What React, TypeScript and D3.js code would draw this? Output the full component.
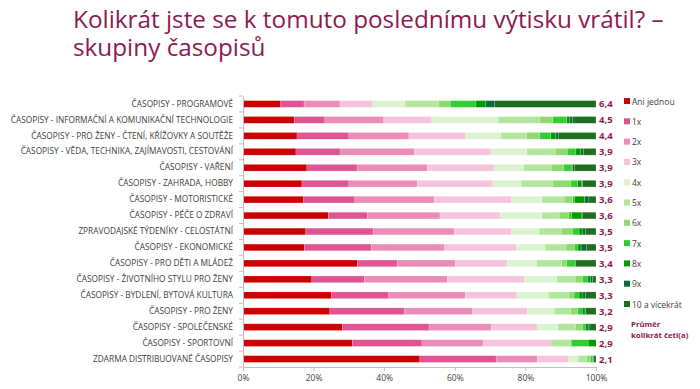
import React, { useEffect, useRef } from 'react';
import * as d3 from 'd3';

const categories = [
  'ČASOPISY - PROGRAMOVÉ',
  'ČASOPISY - INFORMAČNÍ A KOMUNIKAČNÍ TECHNOLOGIE',
  'ČASOPISY - PRO ŽENY - ČTENÍ, KŘÍŽOVKY A SOUTĚŽE',
  'ČASOPISY - VĚDA, TECHNIKA, ZAJÍMAVOSTI, CESTOVÁNÍ',
  'ČASOPISY - VAŘENÍ',
  'ČASOPISY - ZAHRADA, HOBBY',
  'ČASOPISY - MOTORISTICKÉ',
  'ČASOPISY - PÉČE O ZDRAVÍ',
  'ZPRAVODAJSKÉ TÝDENÍKY - CELOSTÁTNÍ',
  'ČASOPISY - EKONOMICKÉ',
  'ČASOPISY - PRO DĚTI A MLÁDEŽ',
  'ČASOPISY - ŽIVOTNÍHO STYLU PRO ŽENY',
  'ČASOPISY - BYDLENÍ, BYTOVÁ KULTURA',
  'ČASOPISY - PRO ŽENY',
  'ČASOPISY - SPOLEČENSKÉ',
  'ČASOPISY - SPORTOVNÍ',
  'ZDARMA DISTRIBUOVANÉ ČASOPISY',
];

const seriesNames = ['Ani jednou', '1x', '2x', '3x', '4x', '5x', '6x', '7x', '8x', '9x', '10 a vícekrát'];

// procenta po řádcích (kategorie), sloupce = seriesNames
const shares = [
  [10.7, 6.6, 10.2, 9.3, 9.0, 9.7, 3.2, 7.3, 2.8, 2.4, 28.8],
  [14.5, 8.7, 16.7, 13.6, 18.8, 11.8, 3.7, 3.9, 0.9, 0.8, 6.6],
  [15.3, 14.7, 17.0, 16.1, 9.9, 7.4, 3.7, 3.1, 1.4, 0.7, 10.7],
  [15.0, 12.5, 21.0, 21.8, 10.1, 8.1, 3.4, 2.4, 1.4, 0.8, 3.5],
  [18.1, 14.2, 19.9, 18.9, 8.4, 7.8, 3.6, 2.3, 0.2, 0.6, 6.0],
  [16.7, 13.3, 19.4, 21.4, 8.0, 9.0, 5.1, 1.9, 1.1, 0.3, 3.8],
  [17.2, 14.5, 22.5, 21.9, 8.6, 6.3, 2.4, 0.5, 2.9, 1.2, 2.0],
  [24.2, 11.1, 20.5, 17.0, 11.9, 4.9, 2.7, 0.8, 2.9, 0.1, 3.9],
  [17.8, 19.1, 22.9, 16.3, 7.8, 6.3, 3.1, 1.9, 0.9, 0.9, 3.0],
  [17.4, 19.0, 20.7, 20.3, 8.2, 5.9, 2.4, 1.0, 0.9, 1.6, 2.6],
  [32.4, 11.3, 16.5, 14.7, 8.3, 7.1, 1.4, 2.4, 0.2, 0.0, 5.7],
  [19.5, 14.9, 23.5, 21.8, 9.2, 5.2, 2.1, 1.4, 0.8, 0.6, 1.0],
  [25.1, 16.2, 21.7, 14.6, 8.9, 5.8, 1.5, 1.4, 1.1, 0.8, 2.9],
  [24.6, 21.2, 19.3, 15.4, 7.7, 4.6, 2.0, 1.3, 0.8, 0.2, 2.9],
  [28.2, 24.5, 17.6, 13.0, 5.9, 5.0, 2.0, 0.8, 0.8, 0.5, 1.7],
  [31.0, 19.7, 17.3, 19.2, 0.0, 5.8, 0.0, 4.8, 2.2, 0.0, 0.0],
  [50.1, 21.6, 11.7, 8.8, 2.8, 2.4, 1.1, 0.6, 0.1, 0.2, 0.6],
];

const averages = ['6,4', '4,5', '4,4', '3,9', '3,9', '3,9', '3,6', '3,6', '3,5', '3,5', '3,4', '3,3', '3,3', '3,2', '2,9', '2,9', '2,1'];

const xTicks = [0, 20, 40, 60, 80, 100];

const COLORS = ['#cc0000', '#df5492', '#ea8cb8', '#f5c4da', '#dcf3d2', '#b2e59d', '#8fd96f', '#33cc33', '#009a00', '#0a6b3b', '#1f6e1f'];
const MAROON = '#8c1a52';
const FONT = '"Open Sans", "Noto Sans", sans-serif';

const W = 700;
const H = 389;

const StackedChart = () => {
  const svgRef = useRef<SVGSVGElement>(null);

  useEffect(() => {
    const svg = d3.select(svgRef.current);
    svg.selectAll('*').remove();

    const margin = { left: 243, right: 104, top: 96, bottom: 22 };
    const plotW = W - margin.left - margin.right;

    // titulek
    const title = svg.append('text')
      .attr('fill', MAROON)
      .style('font-family', FONT)
      .style('font-size', '24.3px');
    title.append('tspan').attr('x', 73).attr('y', 28).text('Kolikrát jste se k tomuto poslednímu výtisku vrátil?  –');
    title.append('tspan').attr('x', 73).attr('y', 56).text('skupiny časopisů');

    const x = d3.scaleLinear().domain([0, 100]).range([margin.left, margin.left + plotW]);
    const y = d3.scaleBand()
      .domain(categories)
      .range([margin.top, 367])
      .paddingInner(0.58)
      .paddingOuter(0.29);

    const stackData = shares.map((row, i) => {
      const o: Record<string, number | string> = { name: categories[i] };
      seriesNames.forEach((s, j) => { o[s] = row[j]; });
      return o;
    });
    const stacked = d3.stack<any>().keys(seriesNames)(stackData);

    const g = svg.append('g');
    stacked.forEach((layer, li) => {
      g.selectAll(`.seg-${li}`)
        .data(layer)
        .enter()
        .append('rect')
        .attr('x', d => x(d[0]))
        .attr('y', d => y(d.data.name as string)!)
        .attr('width', d => Math.max(0, x(d[1]) - x(d[0])))
        .attr('height', y.bandwidth())
        .attr('fill', COLORS[li])
        .attr('stroke', '#ffffff')
        .attr('stroke-opacity', 0.35)
        .attr('stroke-width', 0.5);
    });

    // osa Y
    const yAxis = svg.append('g')
      .attr('transform', `translate(${margin.left},0)`)
      .call(d3.axisLeft(y).tickSize(0).tickPadding(10));
    yAxis.select('.domain').attr('stroke', '#bfbfbf');
    yAxis.selectAll('text')
      .attr('fill', '#404040')
      .style('font-family', FONT)
      .style('font-size', '8.3px');
    const step = y.step();
    const bounds = d3.range(categories.length + 1).map(i => margin.top + y.paddingOuter() * step - y.paddingInner() * step / 2 + i * step);
    svg.append('g').selectAll('line')
      .data(bounds)
      .enter()
      .append('line')
      .attr('x1', margin.left - 4)
      .attr('x2', margin.left)
      .attr('y1', d => d)
      .attr('y2', d => d)
      .attr('stroke', '#bfbfbf');

    // osa X
    const xAxis = svg.append('g')
      .attr('transform', `translate(0,367)`)
      .call(d3.axisBottom(x).tickValues(xTicks).tickSize(4).tickPadding(4).tickFormat(d => `${d}%`));
    xAxis.select('.domain').attr('stroke', '#bfbfbf');
    xAxis.selectAll('line').attr('stroke', '#bfbfbf');
    xAxis.selectAll('text')
      .attr('fill', '#404040')
      .style('font-family', FONT)
      .style('font-size', '8.5px');

    // průměry
    svg.append('g').selectAll('text')
      .data(averages)
      .enter()
      .append('text')
      .attr('x', x(100) + 3)
      .attr('y', (d, i) => y(categories[i])! + y.bandwidth() / 2 + 3.5)
      .attr('fill', MAROON)
      .style('font-family', FONT)
      .style('font-size', '9.5px')
      .style('font-weight', 700)
      .text(d => d);

    // legenda
    const legend = svg.append('g').attr('transform', 'translate(624, 98)');
    seriesNames.forEach((s, i) => {
      const row = legend.append('g').attr('transform', `translate(0, ${i * 20.3})`);
      row.append('rect').attr('width', 6).attr('height', 6).attr('fill', COLORS[i]);
      row.append('text')
        .attr('x', 8)
        .attr('y', 6.5)
        .attr('fill', '#404040')
        .style('font-family', FONT)
        .style('font-size', '8.5px')
        .text(s);
    });
    const avgLabel = legend.append('text')
      .attr('fill', MAROON)
      .style('font-family', FONT)
      .style('font-size', '7.8px')
      .style('font-weight', 700);
    avgLabel.append('tspan').attr('x', 7).attr('y', 229).text('Průměr');
    avgLabel.append('tspan').attr('x', 7).attr('y', 239.5).text('kolikrát četl(a)');
  }, []);

  return <svg ref={svgRef} width={W} height={H} style={{ display: 'block' }} />;
};

export default function App() {
  return (
    <div style={{ margin: -8, width: W, height: H, background: '#fff', overflow: 'hidden' }}>
      <StackedChart />
    </div>
  );
}
